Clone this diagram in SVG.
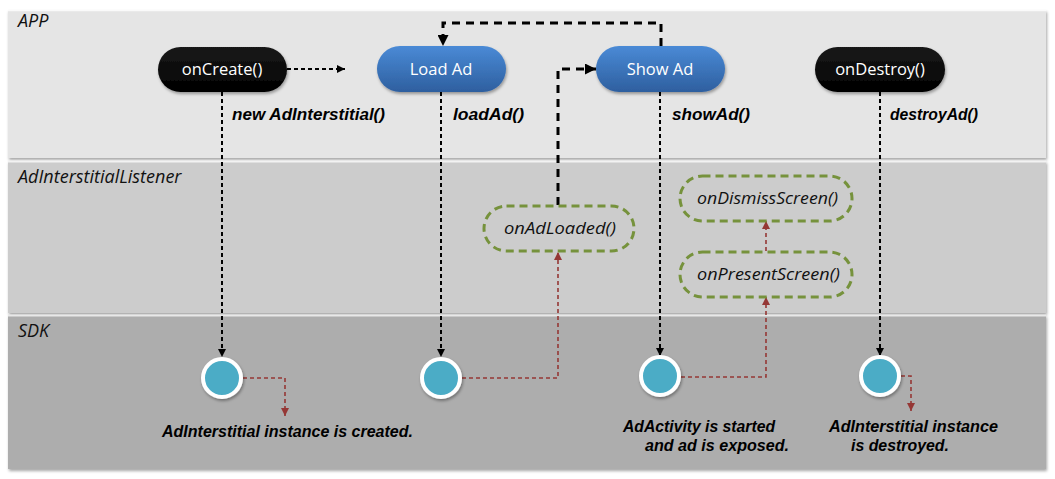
<svg xmlns="http://www.w3.org/2000/svg" width="1055" height="479" viewBox="0 0 1055 479">
<style>
.lane-label{font-family:"Open Sans","Liberation Sans",sans-serif;font-style:italic;font-size:18px;fill:#111}
.call{font-family:"Liberation Sans",Arial,sans-serif;font-style:italic;font-weight:bold;font-size:16px;fill:#000}
.pill-text{font-family:"Open Sans","Liberation Sans",sans-serif;font-size:16.5px;fill:#fff;text-anchor:middle}
.cb-text{font-family:"Open Sans","Liberation Sans",sans-serif;font-style:italic;font-size:17px;fill:#111}
.note{font-family:"Liberation Sans",Arial,sans-serif;font-style:italic;font-weight:bold;font-size:16.5px;fill:#000}
.blk{fill:none;stroke:#000;stroke-width:2;stroke-dasharray:4 3}
.thick{fill:none;stroke:#000;stroke-width:3;stroke-dasharray:8 6}
.red{fill:none;stroke:#953735;stroke-width:1.6;stroke-dasharray:4 3}
.cb{fill:none;stroke:#76923c;stroke-width:3;stroke-dasharray:8 5}
</style>
<defs>
<linearGradient id="blueg" x1="0" y1="0" x2="0" y2="1">
<stop offset="0" stop-color="#4a8ad6"/>
<stop offset="1" stop-color="#2e5f9f"/>
</linearGradient>
<linearGradient id="blackg" x1="0" y1="0" x2="0" y2="1">
<stop offset="0" stop-color="#1a1a1a"/>
<stop offset="1" stop-color="#000"/>
</linearGradient>
<filter id="sh" x="-10%" y="-10%" width="130%" height="140%">
<feDropShadow dx="1" dy="2" stdDeviation="1.5" flood-color="#000" flood-opacity="0.35"/>
</filter>
<marker id="ab" viewBox="0 0 10 10" refX="10" refY="5" markerWidth="8" markerHeight="8" markerUnits="userSpaceOnUse" orient="auto">
<path d="M0,0 L10,5 L0,10 z" fill="#000"/>
</marker>
<marker id="abl" viewBox="0 0 10 10" refX="10" refY="5" markerWidth="11" markerHeight="11" markerUnits="userSpaceOnUse" orient="auto">
<path d="M0,0 L10,5 L0,10 z" fill="#000"/>
</marker>
<marker id="ar" viewBox="0 0 10 10" refX="10" refY="5" markerWidth="8" markerHeight="8" markerUnits="userSpaceOnUse" orient="auto">
<path d="M0,0 L10,5 L0,10 z" fill="#953735"/>
</marker>
</defs>
<rect width="1055" height="479" fill="#fff"/>
<g id="lanes">
<g id="lane-app">
<rect x="8" y="10" width="1038" height="148" fill="#e5e5e5" filter="url(#sh)"/>
<line x1="8" y1="10.5" x2="1046" y2="10.5" stroke="#fafafa" stroke-width="1.5"/>
<text class="lane-label" x="18" y="27">APP</text>
</g>
<g id="lane-listener">
<rect x="8" y="161" width="1038" height="152" fill="#cccccc" filter="url(#sh)"/>
<line x1="8" y1="161.5" x2="1046" y2="161.5" stroke="#f2f2f2" stroke-width="2"/>
<text class="lane-label" x="18" y="183">AdInterstitialListener</text>
</g>
<g id="lane-sdk">
<rect x="8" y="315" width="1038" height="154" fill="#adadad" filter="url(#sh)"/>
<line x1="8" y1="315.5" x2="1046" y2="315.5" stroke="#e8e8e8" stroke-width="2"/>
<text class="lane-label" x="18" y="337">SDK</text>
</g>
</g>
<g id="connectors">
<line class="blk" x1="287" y1="69" x2="345" y2="69" marker-end="url(#ab)"/>
<path class="thick" d="M661,46 V23 H443 V46" marker-end="url(#abl)"/>
<path class="thick" d="M558,205 V69 H596" marker-end="url(#abl)"/>
<line class="blk" x1="222" y1="92" x2="222" y2="357" marker-end="url(#ab)"/>
<line class="blk" x1="441" y1="92" x2="441" y2="357" marker-end="url(#ab)"/>
<line class="blk" x1="660" y1="92" x2="660" y2="356" marker-end="url(#ab)"/>
<line class="blk" x1="880" y1="92" x2="880" y2="356" marker-end="url(#ab)"/>
<path class="red" d="M243,378 H285 V416" marker-end="url(#ar)"/>
<path class="red" d="M462,378 H558 V252" marker-end="url(#ar)"/>
<path class="red" d="M681,377 H766 V297" marker-end="url(#ar)"/>
<line class="red" x1="766" y1="251" x2="766" y2="221" marker-end="url(#ar)"/>
<path class="red" d="M901,376 H911 V411" marker-end="url(#ar)"/>
</g>
<g id="n-oncreate">
<rect x="158" y="47" width="129" height="45" rx="22.5" fill="url(#blackg)" filter="url(#sh)"/>
<text class="pill-text" x="222" y="75">onCreate()</text>
</g>
<g id="n-loadad">
<rect x="377" y="46" width="129" height="46" rx="23" fill="url(#blueg)" filter="url(#sh)"/>
<text class="pill-text" x="441" y="75">Load Ad</text>
</g>
<g id="n-showad">
<rect x="596" y="46" width="129" height="46" rx="23" fill="url(#blueg)" filter="url(#sh)"/>
<text class="pill-text" x="660" y="75">Show Ad</text>
</g>
<g id="n-ondestroy">
<rect x="815" y="47" width="130" height="45" rx="22.5" fill="url(#blackg)" filter="url(#sh)"/>
<text class="pill-text" x="880" y="75">onDestroy()</text>
</g>
<g id="call-labels">
<text class="call" x="232" y="120" textLength="153" lengthAdjust="spacingAndGlyphs">new AdInterstitial()</text>
<text class="call" x="453" y="120" textLength="71" lengthAdjust="spacingAndGlyphs">loadAd()</text>
<text class="call" x="672" y="120" textLength="78" lengthAdjust="spacingAndGlyphs">showAd()</text>
<text class="call" x="890" y="120" textLength="88" lengthAdjust="spacingAndGlyphs">destroyAd()</text>
</g>
<g id="n-onadloaded">
<rect x="484" y="206" width="150" height="45" rx="22.5" class="cb"/>
<text class="cb-text" x="504" y="234" textLength="112" lengthAdjust="spacingAndGlyphs">onAdLoaded()</text>
</g>
<g id="n-ondismiss">
<rect x="680" y="176" width="172" height="45" rx="22.5" class="cb"/>
<text class="cb-text" x="697" y="204" textLength="141" lengthAdjust="spacingAndGlyphs">onDismissScreen()</text>
</g>
<g id="n-onpresent">
<rect x="680" y="252" width="172" height="45" rx="22.5" class="cb"/>
<text class="cb-text" x="697" y="280" textLength="143" lengthAdjust="spacingAndGlyphs">onPresentScreen()</text>
</g>
<g id="sdk-create">
<circle cx="222" cy="378" r="19" fill="#4bacc6" stroke="#fff" stroke-width="4" filter="url(#sh)"/>
</g>
<g id="sdk-load">
<circle cx="441" cy="378" r="19" fill="#4bacc6" stroke="#fff" stroke-width="4" filter="url(#sh)"/>
</g>
<g id="sdk-show">
<circle cx="660" cy="376" r="19" fill="#4bacc6" stroke="#fff" stroke-width="4" filter="url(#sh)"/>
</g>
<g id="sdk-destroy">
<circle cx="880" cy="376" r="19" fill="#4bacc6" stroke="#fff" stroke-width="4" filter="url(#sh)"/>
</g>
<g id="notes">
<text class="note" x="162" y="437" textLength="251" lengthAdjust="spacingAndGlyphs">AdInterstitial instance is created.</text>
<text class="note" x="623" y="432" textLength="152" lengthAdjust="spacingAndGlyphs">AdActivity is started</text>
<text class="note" x="645" y="451" textLength="144" lengthAdjust="spacingAndGlyphs">and ad is exposed.</text>
<text class="note" x="829" y="432" textLength="169" lengthAdjust="spacingAndGlyphs">AdInterstitial instance</text>
<text class="note" x="851" y="451" textLength="98" lengthAdjust="spacingAndGlyphs">is destroyed.</text>
</g>
</svg>
